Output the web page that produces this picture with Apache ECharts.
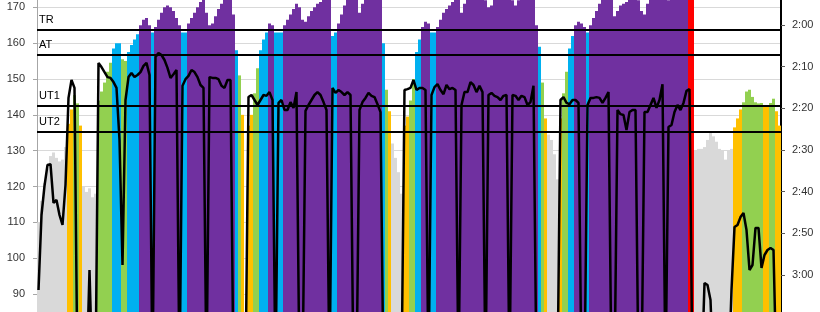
<!DOCTYPE html>
<html><head><meta charset="utf-8">
<script src="https://cdn.jsdelivr.net/npm/echarts@6/dist/echarts.min.js"></script>
<style>html,body{margin:0;padding:0;background:#fff}#c{width:820px;height:312px}</style>
</head><body><div id="c"></div>
<script>
// Heart rate (bpm), one value per sample column
const heartRate = [
110,116,121,125,128.5,129.5,128,127,127.5,131,
137.5,141.5,145.5,143.2,137,120,118.5,119.5,117,118,
144,146.5,149,152,154.5,158.5,160,160,155.5,155,
157.5,159.5,161,162.5,165,166.5,167,165,163,164.5,
166.5,168.5,170,170.5,170,169,167,165,163,163,
165.5,167,168.5,170,171.5,172.5,168.5,165,165.5,167.5,
169.5,171,173,174,173,168,158,151,140,null,
137,140,146,153,158,161,163,165.5,165,163,
163,163,165,166.5,168,169.5,171,170,166.5,166,
167.5,169,170,171,171.5,172.5,174,174,162,163,
165.5,168,170.5,173,174,174,173,168.5,171,173,
174,175,175,175,174,160,147,141,132,128,
124,118,137,139.5,144,150,157.5,161,164.5,166,
165.5,163,163,164.5,166.5,168.5,169.5,170.5,171.5,173,
172.5,168.5,171,173,174,175,175,175,174,172,
170,170.5,173,175,175,175,175,174,172,170.5,
172,174,175,175,175,174,165,159,149,139,
134.5,133,129,122,139,146,152,158.5,162,165,
166,165.5,164.5,163,165,167,169,171,173,174,
175,174,167.5,169,170.5,171,171.5,173.5,175,174,
172,169,168,171,174,175,175,175,175,174,
172,175,175,175,175,175,175,180,180,130,
130.5,130.5,131,133,135,134,132.5,130.5,130,127.5,
130,130.5,136.5,139,141.5,143.5,146.5,147,145,143.5,
143.2,143.3,142.3,142.3,143.3,144.5,141,137
];
// Pace (seconds per 500 m), same sample columns
const pace = [
183.6,165.6,158.6,153.6,153.4,162.7,162,165.6,168,158.4,
137.5,133.2,135.1,205,205,205,205,178.8,205,205,
129.1,130.1,131.3,132.5,132.7,133.7,135.1,147.6,177.6,138,
132.5,131.5,132.5,132,131.3,129.8,129.1,132,205,127.7,
126.7,127.2,128.4,130.3,132.7,131.8,130.8,205,134.6,133,
132.2,130.8,131.3,132.5,134.4,135.1,205,132.5,132.7,132.7,
133,134.6,135.1,133.2,133.2,205,205,205,205,205,
137.3,136.8,138,139.2,138,136.8,137,136.1,138,205,
138.7,138,140.4,140.4,138.5,139.9,136.1,205,205,140.6,
139.2,138,136.8,136.1,136.8,138.5,140.4,205,135.1,136.3,
135.6,136.1,136.8,136.1,136.8,205,205,140.4,138.5,137.5,
136.3,137,137.3,139,140.9,205,205,205,205,205,
205,205,135.6,135.4,135.1,133.2,135.6,135.1,135.1,135.6,
205,136.8,134.9,134.2,135.6,136.6,134.4,135.4,135.1,135.6,
205,139.2,136.1,136.1,133.7,134.4,136.1,134.6,136.1,205,
136.8,136.3,137,137.3,138,137,136.8,205,136.8,137,
138,137,137.3,139.2,138.5,134.6,205,205,205,205,
205,205,205,205,138,137.3,138.7,139,138,138,
138.7,205,205,139.2,137.5,137.5,137.3,137.5,138.7,137.5,
136.1,205,205,140.4,141.4,141.6,145.2,140.9,140.4,140.4,
205,205,140.9,140.9,139.2,137.5,139.9,138,134.2,205,
144.5,144,140.9,139.2,140.4,138.7,135.8,135.4,205,205,
205,205,181.9,182.4,186,205,205,205,205,205,
205,183.6,168.5,168,166.1,165.1,169.2,178.8,177.6,168.7,
168.7,178.3,175.2,174,173.5,174,205,205
];
const categories = heartRate.map((_, i) => String(i + 1));

// Training zone thresholds (bpm)
const zoneNames = ['TR', 'AT', 'UT1', 'UT2'];
const zoneLevels = [163.8, 156.8, 142.6, 135.4];
const zoneColors = ['#D9D9D9', '#FFC000', '#92D050', '#00B0F0', '#7030A0', '#FF0000'];
const maxZone = 178;

// Axis ranges
const hrMin = 80, hrMax = 180, hrStep = 10;
const hrLabelMin = 90, hrLabelMax = 170;
const paceMin = 100, paceMax = 200, paceStep = 10;
const paceLabelMin = 120, paceLabelMax = 180;

const fmtPace = v => Math.floor(v / 60) + ':' + String(v % 60).padStart(2, '0');

const chart = echarts.init(document.getElementById('c'), null, {renderer: 'canvas'});
const font = 'Liberation Sans, Arial, sans-serif';
chart.setOption({
  animation: false,
  grid: [
    {left: 37, right: 39, top: -28.54, bottom: -17.9, containLabel: false, outerBoundsMode: 'none'},
    {left: 37, right: 39, top: -58.33, bottom: -46.33, containLabel: false, outerBoundsMode: 'none'}
  ],
  visualMap: {
    show: false, type: 'piecewise', seriesIndex: 0,
    pieces: [
      {lt: zoneLevels[3], color: zoneColors[0]},
      {gte: zoneLevels[3], lt: zoneLevels[2], color: zoneColors[1]},
      {gte: zoneLevels[2], lt: zoneLevels[1], color: zoneColors[2]},
      {gte: zoneLevels[1], lt: zoneLevels[0], color: zoneColors[3]},
      {gte: zoneLevels[0], lt: maxZone, color: zoneColors[4]},
      {gte: maxZone, color: zoneColors[5]}
    ]
  },
  xAxis: [
    {type: 'category', gridIndex: 0, data: categories, show: false},
    {type: 'category', gridIndex: 1, data: categories, show: false}
  ],
  yAxis: [
    {
      type: 'value', gridIndex: 0, position: 'left',
      min: hrMin, max: hrMax, interval: hrStep,
      axisLine: {show: true, lineStyle: {color: '#A6A6A6', width: 1}},
      axisTick: {show: true, length: 4, lineStyle: {color: '#A6A6A6'}},
      splitLine: {show: true, lineStyle: {color: '#D9D9D9', width: 1}},
      axisLabel: {
        margin: 12, color: '#333', fontSize: 11, fontFamily: font,
        formatter: v => (v >= hrLabelMin && v <= hrLabelMax) ? String(v) : ''
      }
    },
    {
      type: 'value', gridIndex: 1, position: 'right', inverse: true,
      min: paceMin, max: paceMax, interval: paceStep,
      axisLine: {show: true, lineStyle: {color: '#000', width: 2}},
      axisTick: {show: true, length: 4, lineStyle: {color: '#595959'}},
      splitLine: {show: false},
      axisLabel: {
        margin: 11, color: '#333', fontSize: 11, fontFamily: font,
        formatter: v => (v >= paceLabelMin && v <= paceLabelMax) ? fmtPace(v) : ''
      }
    }
  ],
  series: [
    {
      type: 'bar', xAxisIndex: 0, yAxisIndex: 0, data: heartRate,
      barCategoryGap: '0%', barGap: '0%', silent: true,
      itemStyle: {borderWidth: 0},
      markLine: {
        silent: true, symbol: ['none', 'none'],
        lineStyle: {color: '#000', width: 2, type: 'solid'},
        label: {
          show: true, position: 'insideStartTop', formatter: '{b}',
          color: '#000', fontSize: 11, fontFamily: font, distance: [2, 4]
        },
        data: zoneLevels.map((v, i) => ({name: zoneNames[i], yAxis: v}))
      }
    },
    {
      type: 'line', xAxisIndex: 1, yAxisIndex: 1, data: pace,
      symbol: 'none', silent: true, z: 5,
      lineStyle: {color: '#000', width: 2.5}
    }
  ]
});
</script></body></html>
